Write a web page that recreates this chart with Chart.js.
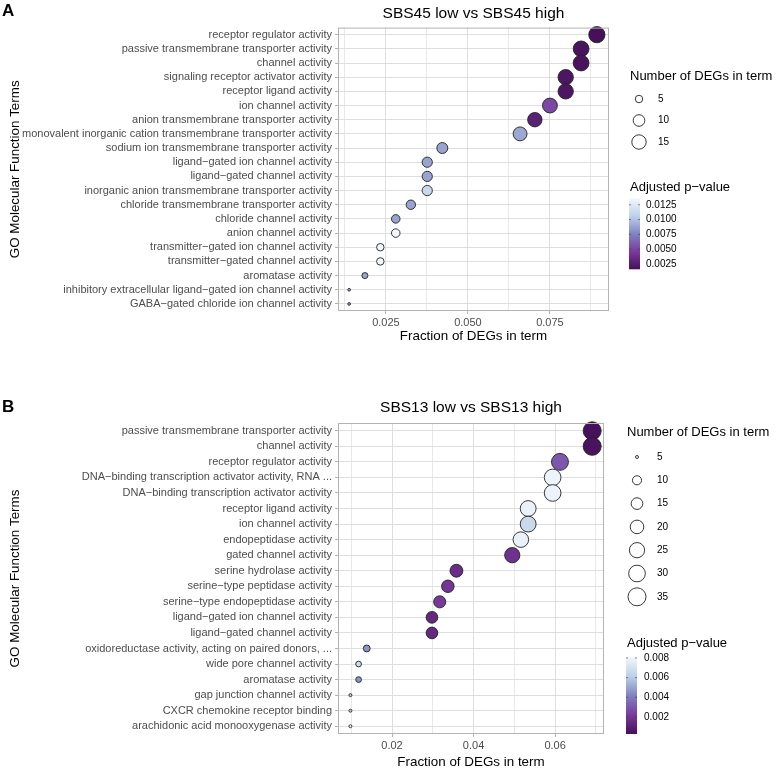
<!DOCTYPE html>
<html>
<head>
<meta charset="utf-8">
<script src="https://cdn.jsdelivr.net/npm/chart.js@4.4.1/dist/chart.umd.min.js"></script>
<style>
  html, body { margin: 0; padding: 0; background: #fff; overflow: hidden; }
  #page { position: relative; width: 777px; height: 769px; overflow: hidden; }
  .panel { position: absolute; left: 0; width: 777px; }
</style>
</head>
<body>
<div id="page">
  <div class="panel" style="top:0"><canvas id="chartA" width="777" height="375"></canvas></div>
  <div class="panel" style="top:375px"><canvas id="chartB" width="777" height="400"></canvas></div>
</div>
<script>
// ---- Panel A : SBS45 low vs SBS45 high ----
const termsA = [
  'receptor regulator activity',
  'passive transmembrane transporter activity',
  'channel activity',
  'signaling receptor activator activity',
  'receptor ligand activity',
  'ion channel activity',
  'anion transmembrane transporter activity',
  'monovalent inorganic cation transmembrane transporter activity',
  'sodium ion transmembrane transporter activity',
  'ligand\u2212gated ion channel activity',
  'ligand\u2212gated channel activity',
  'inorganic anion transmembrane transporter activity',
  'chloride transmembrane transporter activity',
  'chloride channel activity',
  'anion channel activity',
  'transmitter\u2212gated ion channel activity',
  'transmitter\u2212gated channel activity',
  'aromatase activity',
  'inhibitory extracellular ligand\u2212gated ion channel activity',
  'GABA\u2212gated chloride ion channel activity'
];
const fractionA = [0.0893, 0.0845, 0.0845, 0.0798, 0.0798, 0.0750, 0.0704, 0.0659, 0.0422, 0.0376,
                   0.0376, 0.0376, 0.0326, 0.0280, 0.0280, 0.0233, 0.0233, 0.0186, 0.0138, 0.0138];
const countA = [19, 18, 18, 17, 17, 16, 15, 14, 9, 8, 8, 8, 7, 6, 6, 5, 5, 4, 3, 3];
const padjA = [0.0016, 0.0018, 0.0018, 0.0020, 0.0020, 0.0052, 0.0028, 0.0090, 0.0088, 0.0088,
               0.0088, 0.0112, 0.0088, 0.0088, 0.0135, 0.0135, 0.0135, 0.0088, 0.0088, 0.0088];
const xTicksA = [0.025, 0.050, 0.075];
const xTickLabelsA = ['0.025', '0.050', '0.075'];
const xMinorA = [0.0125, 0.0375, 0.0625, 0.0875];
const sizeBreaksA = [5, 10, 15];
const padjBreaksA = [0.0025, 0.0050, 0.0075, 0.0100, 0.0125];
const padjLabelsA = ['0.0025', '0.0050', '0.0075', '0.0100', '0.0125'];

// ---- Panel B : SBS13 low vs SBS13 high ----
const termsB = [
  'passive transmembrane transporter activity',
  'channel activity',
  'receptor regulator activity',
  'DNA\u2212binding transcription activator activity, RNA ...',
  'DNA\u2212binding transcription activator activity',
  'receptor ligand activity',
  'ion channel activity',
  'endopeptidase activity',
  'gated channel activity',
  'serine hydrolase activity',
  'serine\u2212type peptidase activity',
  'serine\u2212type endopeptidase activity',
  'ligand\u2212gated ion channel activity',
  'ligand\u2212gated channel activity',
  'oxidoreductase activity, acting on paired donors, ...',
  'wide pore channel activity',
  'aromatase activity',
  'gap junction channel activity',
  'CXCR chemokine receptor binding',
  'arachidonic acid monooxygenase activity'
];
const fractionB = [0.0691, 0.0691, 0.0612, 0.0594, 0.0594, 0.0534, 0.0534, 0.0516, 0.0495, 0.0358,
                   0.0337, 0.0317, 0.0298, 0.0298, 0.0138, 0.0118, 0.0118, 0.0098, 0.0098, 0.0098];
const countB = [35, 35, 31, 30, 30, 27, 27, 26, 25, 18, 17, 16, 15, 15, 7, 6, 6, 5, 5, 5];
const padjB = [0.0003, 0.0004, 0.0030, 0.0079, 0.0079, 0.0078, 0.0066, 0.0078, 0.0018, 0.0016,
               0.0020, 0.0022, 0.0014, 0.0014, 0.0046, 0.0066, 0.0046, 0.0064, 0.0064, 0.0080];
const xTicksB = [0.02, 0.04, 0.06];
const xTickLabelsB = ['0.02', '0.04', '0.06'];
const xMinorB = [0.01, 0.03, 0.05, 0.07];
const sizeBreaksB = [5, 10, 15, 20, 25, 30, 35];
const padjBreaksB = [0.002, 0.004, 0.006, 0.008];
const padjLabelsB = ['0.002', '0.004', '0.006', '0.008'];

const FONT = '"Liberation Sans", Arial, Helvetica, sans-serif';
const fillStops = ['#46105a', '#7a3a9c', '#8084c2', '#bdd1e9', '#f3f8fc'];

function hexRgb(h) {
  return [parseInt(h.slice(1, 3), 16), parseInt(h.slice(3, 5), 16), parseInt(h.slice(5, 7), 16)];
}

function padjColor(p, lim) {
  let t = (p - lim[0]) / (lim[1] - lim[0]);
  t = Math.max(0, Math.min(1, t));
  const seg = t * (fillStops.length - 1);
  const i = Math.min(Math.floor(seg), fillStops.length - 2);
  const f = seg - i;
  const a = hexRgb(fillStops[i]), b = hexRgb(fillStops[i + 1]);
  const c = a.map((v, j) => Math.round(v + (b[j] - v) * f));
  return 'rgb(' + c.join(',') + ')';
}

// ggplot-like area scale: size 1..6, k = px per size unit
function bubbleRadius(n, range, k) {
  const t = Math.max(0, (n - range[0]) / (range[1] - range[0]));
  return (1 + 5 * Math.sqrt(t)) * k / 2;
}

const goLegend = {
  id: 'goLegend',
  afterDraw(chart, args, o) {
    const ctx = chart.ctx;
    const a = chart.chartArea;
    ctx.save();
    // panel border
    ctx.strokeStyle = '#b3b3b3';
    ctx.lineWidth = 1;
    ctx.strokeRect(a.left + 0.5, a.top + 0.5, a.right - a.left - 1, a.bottom - a.top - 1);

    // panel letter
    ctx.fillStyle = '#000';
    ctx.font = 'bold 17px ' + FONT;
    ctx.textAlign = 'left';
    ctx.textBaseline = 'alphabetic';
    ctx.fillText(o.letter, 2, o.letterY);

    // size legend
    ctx.font = '13px ' + FONT;
    ctx.textBaseline = 'middle';
    ctx.fillText('Number of DEGs in term', o.sizeX, o.sizeTitleY);
    ctx.font = '10px ' + FONT;
    o.sizeBreaks.forEach((n, i) => {
      const y = o.sizeY0 + i * o.sizeDy;
      ctx.beginPath();
      ctx.arc(o.sizeCx, y, bubbleRadius(n, o.countRange, o.k), 0, Math.PI * 2);
      ctx.fillStyle = '#fff';
      ctx.fill();
      ctx.strokeStyle = '#222';
      ctx.lineWidth = 0.9;
      ctx.stroke();
      ctx.fillStyle = '#000';
      ctx.fillText(String(n), o.sizeLabelX, y);
    });

    // colour bar
    ctx.font = '13px ' + FONT;
    ctx.fillText('Adjusted p\u2212value', o.sizeX, o.barTitleY);
    const bx = o.barX, by = o.barY, bw = o.barW, bh = o.barH;
    const g = ctx.createLinearGradient(0, by + bh, 0, by);
    fillStops.forEach((c, i) => g.addColorStop(i / (fillStops.length - 1), c));
    ctx.fillStyle = g;
    ctx.fillRect(bx, by, bw, bh);
    ctx.font = '10px ' + FONT;
    o.padjBreaks.forEach((v, i) => {
      const y = by + bh - (v - o.padjLim[0]) / (o.padjLim[1] - o.padjLim[0]) * bh;
      ctx.strokeStyle = 'rgba(60,60,60,0.6)';
      ctx.lineWidth = 1;
      ctx.beginPath();
      ctx.moveTo(bx, y); ctx.lineTo(bx + 2, y);
      ctx.moveTo(bx + bw - 2, y); ctx.lineTo(bx + bw, y);
      ctx.stroke();
      ctx.fillStyle = '#000';
      ctx.fillText(o.padjLabels[i], o.barLabelX, y);
    });
    ctx.restore();
  }
};

function makePanel(id, d) {
  const countRange = [Math.min(...d.count), Math.max(...d.count)];
  const points = d.terms.map((t, i) => ({ x: d.fraction[i], y: t, n: d.count[i], p: d.padj[i] }));
  const gridTicks = d.xTicks.concat(d.xMinor).sort((a, b) => a - b);
  const isMajor = v => d.xTicks.some(t => Math.abs(t - v) < 1e-9);

  new Chart(document.getElementById(id), {
    type: 'bubble',
    data: {
      datasets: [{
        data: points,
        radius: c => bubbleRadius(c.raw.n, countRange, d.k),
        backgroundColor: c => padjColor(c.raw.p, d.padjLim),
        borderColor: '#222',
        borderWidth: 0.9
      }]
    },
    options: {
      responsive: false,
      animation: false,
      events: [],
      layout: { padding: d.padding },
      plugins: {
        legend: { display: false },
        tooltip: { enabled: false },
        title: {
          display: true,
          text: d.title,
          fullSize: false,
          color: '#000',
          font: { family: FONT, size: 15.5, weight: 'normal', lineHeight: 1.2 },
          padding: d.titlePad
        },
        goLegend: d.legend
      },
      scales: {
        x: {
          type: 'linear',
          min: d.xMin,
          max: d.xMax,
          afterBuildTicks: s => { s.ticks = gridTicks.map(v => ({ value: v })); },
          afterFit: s => { s.height = d.xHeight; },
          ticks: {
            autoSkip: false,
            maxRotation: 0,
            padding: 2,
            color: '#4d4d4d',
            font: { family: FONT, size: 11 },
            callback: v => {
              const i = d.xTicks.findIndex(t => Math.abs(t - v) < 1e-9);
              return i >= 0 ? d.xTickLabels[i] : '';
            }
          },
          grid: {
            color: '#dedede',
            lineWidth: c => (c.tick && isMajor(c.tick.value)) ? 1 : 0.7,
            tickLength: 3,
            tickColor: c => (c.tick && isMajor(c.tick.value)) ? '#b3b3b3' : 'rgba(0,0,0,0)'
          },
          border: { display: false },
          title: {
            display: true,
            text: 'Fraction of DEGs in term',
            color: '#000',
            font: { family: FONT, size: 13.4 },
            padding: { top: 0, bottom: d.xTitlePad }
          }
        },
        y: {
          type: 'category',
          labels: d.terms,
          offset: true,
          afterFit: s => { s.width = d.yWidth; },
          ticks: {
            autoSkip: false,
            padding: 3,
            color: '#4d4d4d',
            font: { family: FONT, size: 11 }
          },
          grid: {
            offset: false,
            color: '#dedede',
            lineWidth: 1,
            tickLength: 3,
            tickColor: '#b3b3b3'
          },
          border: { display: false },
          title: {
            display: true,
            text: 'GO Molecular Function Terms',
            color: '#000',
            font: { family: FONT, size: 13.4 },
            padding: { top: 7, bottom: 0 }
          }
        }
      }
    },
    plugins: [goLegend]
  });
}

makePanel('chartA', {
  terms: termsA, fraction: fractionA, count: countA, padj: padjA,
  title: 'SBS45 low vs SBS45 high',
  xMin: 0.0104, xMax: 0.0930,
  xTicks: xTicksA, xTickLabels: xTickLabelsA, xMinor: xMinorA,
  padjLim: [0.0016, 0.0136], k: 2.7,
  padding: { left: 0, right: 168, top: 0, bottom: 0 },
  titlePad: { top: 4, bottom: 5 },
  yWidth: 338, xHeight: 64, xTitlePad: 30.3,
  legend: {
    letter: 'A', letterY: 16,
    sizeX: 630, sizeTitleY: 76, sizeCx: 639, sizeLabelX: 658, sizeY0: 99, sizeDy: 21.5,
    sizeBreaks: sizeBreaksA, countRange: [Math.min(...countA), Math.max(...countA)], k: 2.7,
    barTitleY: 187, barX: 629, barY: 198.3, barW: 11, barH: 71, barLabelX: 646,
    padjBreaks: padjBreaksA, padjLabels: padjLabelsA, padjLim: [0.0016, 0.0136]
  }
});

makePanel('chartB', {
  terms: termsB, fraction: fractionB, count: countB, padj: padjB,
  title: 'SBS13 low vs SBS13 high',
  xMin: 0.00675, xMax: 0.0720,
  xTicks: xTicksB, xTickLabels: xTickLabelsB, xMinor: xMinorB,
  padjLim: [0.00027, 0.00813], k: 3,
  padding: { left: 0, right: 173, top: 0, bottom: 0 },
  titlePad: { top: 23.5, bottom: 5.9 },
  yWidth: 338, xHeight: 41, xTitlePad: 4.3,
  legend: {
    letter: 'B', letterY: 37,
    sizeX: 627, sizeTitleY: 57, sizeCx: 637, sizeLabelX: 657, sizeY0: 82, sizeDy: 23.3,
    sizeBreaks: sizeBreaksB, countRange: [Math.min(...countB), Math.max(...countB)], k: 3,
    barTitleY: 268, barX: 626, barY: 281.7, barW: 11, barH: 77.3, barLabelX: 644,
    padjBreaks: padjBreaksB, padjLabels: padjLabelsB, padjLim: [0.00027, 0.00813]
  }
});
</script>
</body>
</html>
